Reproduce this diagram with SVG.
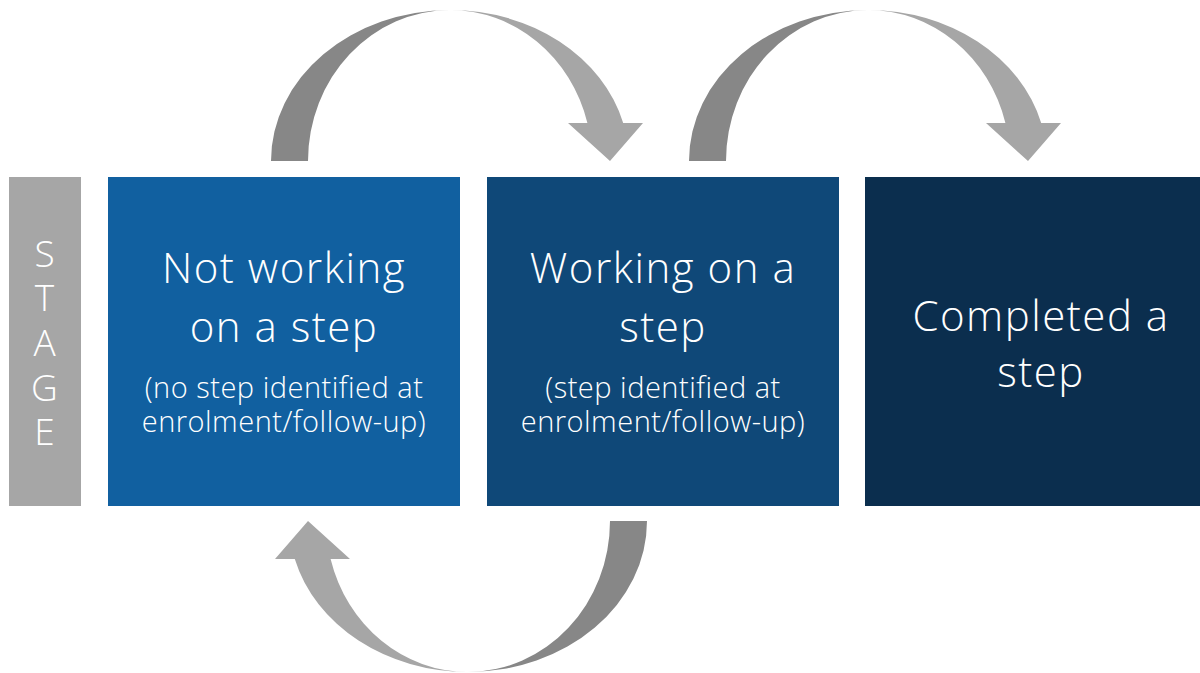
<svg xmlns="http://www.w3.org/2000/svg" width="1200" height="673" viewBox="0 0 1200 673">
<defs>
<style>
.t{font-family:"Open Sans","Segoe UI","Liberation Sans",sans-serif;font-weight:300;fill:#ffffff;text-anchor:middle}
.big{font-size:42px;letter-spacing:1.5px}
.sm{font-size:29px;letter-spacing:0.5px}
.stage{font-size:37px}
.dk{fill:#878787}
.lt{fill:#a6a6a6}
</style>
<g id="arrowShape">
<path class="dk" d="M271,161 A179 151 0 0 1 450,10 A142 151 0 0 0 308,161 Z"/>
<path class="lt" d="M450,10 A179 151 0 0 1 623.2,123 L643,123 L610,161 L568,123 L587.4,123 A142 151 0 0 0 450,10 Z"/>
</g>
</defs>
<rect width="1200" height="673" fill="#ffffff"/>
<g id="connectors">
<use id="arrow-1-2" href="#arrowShape"/>
<use id="arrow-2-3" href="#arrowShape" transform="translate(418,0)"/>
<use id="arrow-2-1" href="#arrowShape" transform="rotate(180 459 341)"/>
</g>
<g id="stage">
<rect x="9" y="177" width="72" height="329" fill="#a6a6a6"/>
<text class="t stage"><tspan x="44.5" y="266.5">S</tspan><tspan x="44.5" y="311">T</tspan><tspan x="44.5" y="356">A</tspan><tspan x="44.5" y="400.5">G</tspan><tspan x="44.5" y="445">E</tspan></text>
</g>
<g id="node-not-working">
<rect x="108" y="177" width="352" height="329" fill="#1160a0"/>
<text class="t big" x="284" y="283">Not working</text>
<text class="t big" x="284" y="341.5">on a step</text>
<text class="t sm" x="284" y="398">(no step identified at</text>
<text class="t sm" x="284" y="431.5">enrolment/follow-up)</text>
</g>
<g id="node-working">
<rect x="487" y="177" width="352" height="329" fill="#0f4878"/>
<text class="t big" x="663" y="283">Working on a</text>
<text class="t big" x="663" y="341.5">step</text>
<text class="t sm" x="663" y="398">(step identified at</text>
<text class="t sm" x="663" y="431.5">enrolment/follow-up)</text>
</g>
<g id="node-completed">
<rect x="865" y="177" width="352" height="329" fill="#0b2e4e"/>
<text class="t big" x="1041" y="330.5">Completed a</text>
<text class="t big" x="1041" y="387">step</text>
</g>
</svg>
